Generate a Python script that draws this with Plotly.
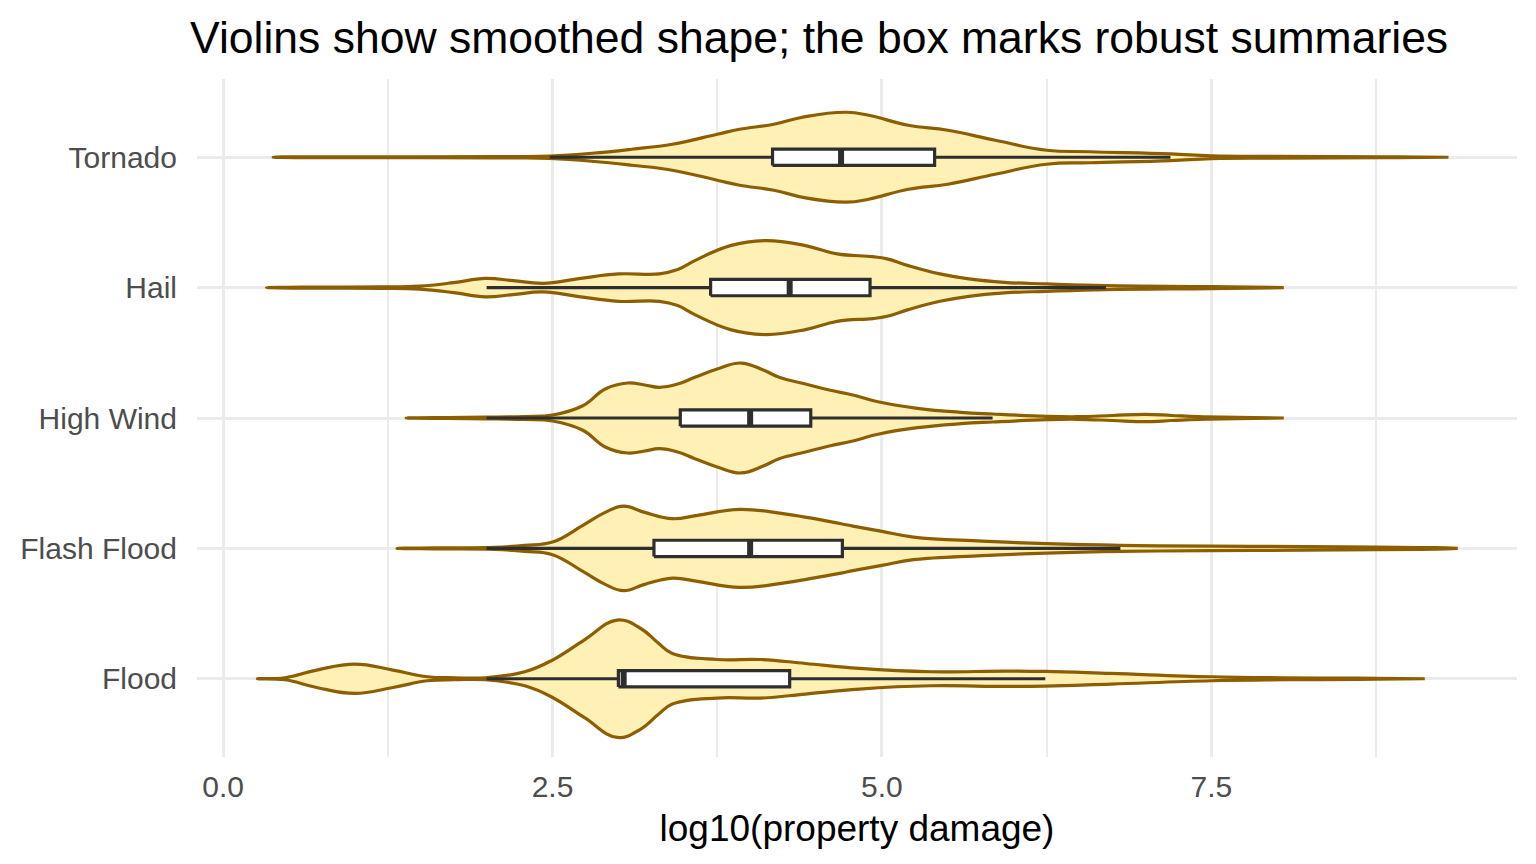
import plotly.graph_objects as go

# categories, bottom to top
categories = ["Flood", "Flash Flood", "High Wind", "Hail", "Tornado"]

# violin outlines: x = log10(damage), density in arbitrary units
flood_x = [0.26, 0.47, 0.71, 1.0, 1.29, 1.55, 1.76, 1.99, 2.29, 2.5, 2.74, 2.99, 3.17,
           3.3, 3.41, 3.75, 4.08, 4.42, 4.83, 5.37, 5.93, 6.24, 6.74, 7.5, 8.05, 8.6, 9.12]
flood_density = [0, 1, 8.7, 14.7, 8.7, 2, 1, 1, 7, 18.7, 38.7, 58.7, 50.3,
                 36, 25.3, 19.3, 19.3, 15.3, 10.3, 7, 7.7, 7.3, 5.3, 2, 1, 0.6, 0]

flash_x = [1.32, 1.6, 2.06, 2.29, 2.5, 2.73, 2.9, 3.04, 3.2, 3.41, 3.6, 3.92, 4.25,
           4.69, 4.78, 5.0, 5.24, 5.76, 6.25, 6.81, 7.5, 8.75, 9.2, 9.37]
flash_density = [0, 0.5, 1, 3, 6.3, 23, 36, 42.3, 36, 29.7, 33, 39, 34.7,
                 24.7, 22.3, 17, 11.3, 7.3, 4.7, 3, 2.3, 1.3, 0.7, 0]

wind_x = [1.39, 1.7, 2.0, 2.29, 2.5, 2.73, 2.9, 3.07, 3.2, 3.31, 3.45, 3.58, 3.75,
          3.93, 4.1, 4.22, 4.42, 4.6, 4.78, 4.97, 5.27, 5.6, 5.84, 6.25, 6.48,
          6.75, 7.0, 7.2, 7.4, 7.7, 8.05]
wind_density = [0, 0.5, 0.8, 1.5, 3, 12.3, 29, 35, 33, 30.7, 34, 40.7, 49,
                55, 48, 40.7, 34, 28, 23, 16.3, 9.7, 5.7, 4, 1.7, 1.3,
                2.5, 3.7, 2.5, 1.3, 0.7, 0]

hail_x = [0.33, 0.6, 1.2, 1.49, 1.75, 1.99, 2.2, 2.43, 2.7, 3.0, 3.31, 3.45, 3.58,
          3.85, 4.12, 4.42, 4.66, 4.93, 5.04, 5.2, 5.44, 5.66, 5.93, 6.25, 6.7,
          7.5, 8.05]
hail_density = [0, 0.5, 0.7, 1.5, 5, 9.3, 7, 4.3, 9, 13.7, 13.7, 18, 27,
                42, 47, 42, 33.7, 31, 28.7, 22, 13.7, 8.7, 5.3, 3.7, 2,
                1, 0]

tornado_x = [0.38, 0.6, 1.5, 2.2, 2.48, 2.8, 3.1, 3.41, 3.75, 3.92, 4.18, 4.42, 4.73,
             4.9, 5.2, 5.5, 5.86, 6.25, 6.58, 7.19, 7.5, 8.0, 8.8, 9.3]
tornado_density = [0, 0.5, 0.5, 0.7, 1.2, 4, 8, 13, 23, 28, 33, 40.7, 45,
                   42, 32, 27, 17, 7, 5.5, 3.3, 1.3, 0.8, 0.5, 0]

# box summaries per category (same order as categories)
lower_whisker = [2.0, 2.0, 2.0, 2.0, 2.48]
q1 = [3.0, 3.27, 3.47, 3.70, 4.17]
median = [3.04, 4.0, 4.0, 4.30, 4.69]
q3 = [4.30, 4.70, 4.46, 4.91, 5.40]
upper_whisker = [6.24, 6.81, 5.84, 6.70, 7.19]

violins = [
    (flood_x, flood_density),
    (flash_x, flash_density),
    (wind_x, wind_density),
    (hail_x, hail_density),
    (tornado_x, tornado_density),
]

fill_col = "#FFF0B5"
edge_col = "#8C5E00"
box_col = "#2E2E2E"
grid_col = "#EBEBEB"
font = "Liberation Sans, Arial, sans-serif"

half_max = 0.45  # widest violin takes 0.9 of a category slot
box_w = 0.125
dmax = max(max(d) for _, d in violins)

fig = go.Figure()

for i, (xs, dens) in enumerate(violins):
    pos = i + 1
    half = [d / dmax * half_max for d in dens]
    px = list(xs) + list(xs[::-1])
    py = [pos + h for h in half] + [pos - h for h in half[::-1]]
    fig.add_trace(go.Scatter(
        x=px, y=py, mode="lines", fill="toself",
        fillcolor=fill_col,
        line=dict(color=edge_col, width=3.2, shape="spline", smoothing=1.2),
        hoverinfo="skip", showlegend=False,
    ))

for i in range(len(categories)):
    pos = i + 1
    lo, hi = pos - box_w / 2, pos + box_w / 2
    # whiskers
    for a, b in [(lower_whisker[i], q1[i]), (q3[i], upper_whisker[i])]:
        fig.add_trace(go.Scatter(
            x=[a, b], y=[pos, pos], mode="lines",
            line=dict(color=box_col, width=3.2),
            hoverinfo="skip", showlegend=False,
        ))
    # box
    fig.add_trace(go.Scatter(
        x=[q1[i], q3[i], q3[i], q1[i], q1[i]], y=[lo, lo, hi, hi, lo],
        mode="lines", fill="toself", fillcolor="white",
        line=dict(color=box_col, width=3.2),
        hoverinfo="skip", showlegend=False,
    ))
    # heavier median bar
    fig.add_trace(go.Scatter(
        x=[median[i], median[i]], y=[lo, hi],
        mode="lines", line=dict(color=box_col, width=6),
        hoverinfo="skip", showlegend=False,
    ))

fig.update_layout(
    width=1536, height=864,
    margin=dict(l=182, r=27, t=71, b=115),
    paper_bgcolor="white", plot_bgcolor="white",
    font=dict(family=font, color="#4D4D4D"),
    title=dict(
        text="Violins show smoothed shape; the box marks robust summaries",
        x=182 / 1536, xref="container", xanchor="left",
        y=1 - 29 / 864, yref="container", yanchor="middle",
        font=dict(size=44.5, color="black", family=font),
    ),
    showlegend=False,
)

fig.update_xaxes(
    range=[-0.198, 9.82],
    tick0=0, dtick=2.5, tickformat=".1f",
    tickfont=dict(size=30, color="#4D4D4D"),
    ticks="outside", ticklen=3, tickcolor="rgba(0,0,0,0)",
    showgrid=True, gridcolor=grid_col, gridwidth=3.2,
    minor=dict(dtick=1.25, showgrid=True, gridcolor=grid_col, gridwidth=1.6),
    zeroline=False, showline=False,
    title=dict(text="log10(property damage)", font=dict(size=37, color="black"), standoff=13),
)

fig.update_yaxes(
    range=[0.4, 5.6],
    tickvals=list(range(1, len(categories) + 1)), ticktext=categories,
    tickfont=dict(size=30, color="#4D4D4D"),
    ticks="outside", ticklen=13, tickcolor="rgba(0,0,0,0)",
    showgrid=True, gridcolor=grid_col, gridwidth=3.2,
    zeroline=False, showline=False,
)

fig.write_html("out.html")
